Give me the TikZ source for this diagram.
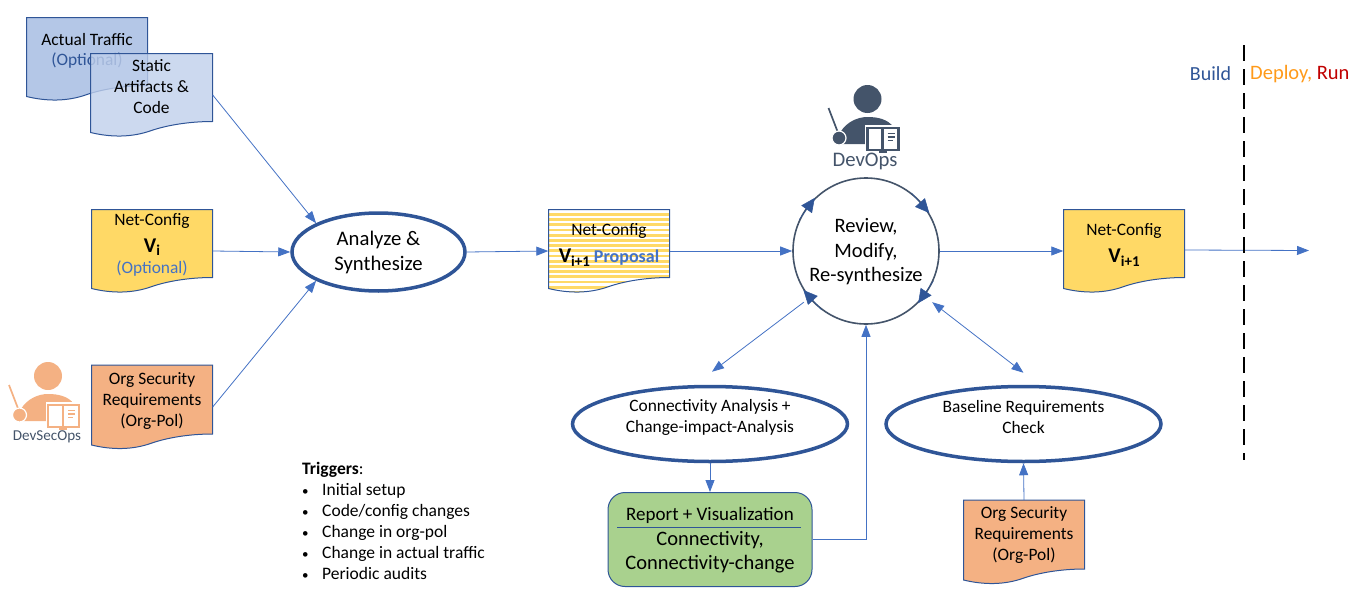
\documentclass[tikz,border=0pt]{standalone}
\usepackage{fontspec}
\setmainfont{Carlito}
\usetikzlibrary{arrows.meta,calc,shapes.geometric}
\definecolor{navy}{HTML}{2F5597}
\definecolor{conn}{HTML}{4472C4}
\definecolor{slate}{HTML}{44546A}
\definecolor{docyellow}{HTML}{FFD966}
\definecolor{docorange}{HTML}{F4B183}
\definecolor{docblue}{HTML}{B4C7E7}
\definecolor{docgreen}{HTML}{A9D18E}
\definecolor{deployc}{HTML}{FF9A1A}
\definecolor{runc}{HTML}{C00000}
\newcommand{\fsz}[1]{\fontsize{#1}{#1}\selectfont}
\newcommand{\vsub}[1]{\textbf{\fsz{21}V\raisebox{-3.5pt}{\fsz{15}#1}}}
\tikzset{
  docedge/.style={draw=navy,line width=1pt},
  doctext/.style={align=center,inner sep=0pt,font=\fsz{17.4},text depth=0pt},
  link/.style={draw=conn,line width=.8pt,-{Triangle[length=12pt,width=9pt]}},
  dlink/.style={draw=conn,line width=.8pt,{Triangle[length=12pt,width=9pt]}-{Triangle[length=12pt,width=9pt]}},
  oval/.style={ellipse,draw=navy,fill=white,inner sep=0pt,align=center},
  plainlabel/.style={inner sep=0pt,align=center},
  circtip/.style={draw=navy,line width=.5pt,-{Triangle[length=14pt,width=13pt]}},
  stripes/.style={fill=white,path picture={
    \foreach \s in {0,...,16}{\fill[docyellow] (540,{213+\s*5.2}) rectangle (680,{215.7+\s*5.2});}}},
}
% name, x, y, w, h, fill style, text y, text
\newcommand{\docbox}[8]{%
  \pgfmathsetmacro{\xa}{#2}\pgfmathsetmacro{\xb}{#2+#4}\pgfmathsetmacro{\ya}{#3}\pgfmathsetmacro{\yb}{#3+#5}%
  \pgfmathsetmacro{\ca}{#2+.17*#4}\pgfmathsetmacro{\cb}{#2+.34*#4}\pgfmathsetmacro{\cc}{#2+.62*#4}\pgfmathsetmacro{\cd}{#2+.8*#4}%
  \path[docedge,#6] (\xa,\ya) -- (\xb,\ya) -- (\xb,\yb-15)
    .. controls (\cd,\yb-15) and (\cc,\yb-11) .. ({#2+.5*#4},\yb-6)
    .. controls (\cb,\yb+1) and (\ca,\yb+1) .. (\xa,\yb-4) -- cycle;
  \node[minimum width=#4pt,minimum height=#5pt,inner sep=0pt] (#1) at ({#2+.5*#4},{#3+.5*#5}) {};
  \node[doctext] (#1-t) at ({#2+.5*#4},#7) {#8};
}
% person: head x, y, colour
\newcommand{\person}[3]{%
  \begin{scope}[shift={(#1,#2)}]
    \fill[#3] (0,0) circle (14);
    \fill[#3] (-27,33) .. controls (-21,23) and (-10,18) .. (0,18) .. controls (10,18) and (20,20) .. (26,28) -- (26,45) -- (-27,45) -- cycle;
    \draw[#3,line width=1.7pt] (-39,9) -- (-29,35);
    \fill[#3,draw=white,line width=1.2pt] (-28.5,39) circle (7);
    \fill[white] (-2.5,26) rectangle (33.5,54);
    \draw[#3,line width=2.4pt,fill=white] (0,29) rectangle (31,51);
    \draw[#3,line width=2.2pt] (15,29) -- (15,51);
    \draw[#3,line width=1.2pt] (20,34.5) -- (27,34.5) (20,38) -- (27,38) (20,41.5) -- (25,41.5);
    \fill[#3] (11,51) rectangle (19,54);
  \end{scope}
}
\begin{document}
\begin{tikzpicture}[x=1pt,y=-1pt]
\useasboundingbox (0,0) rectangle (1353,589);

% documents
\docbox{traffic}{26.5}{17.5}{121}{83}{fill=docblue}{49.5}{Actual Traffic\\[2.6pt]\textcolor{navy}{(Optional)}}
\docbox{static}{90.5}{53.5}{122}{83}{fill=docblue!85!white,fill opacity=.8}{86}{Static\\[3.6pt]Artifacts \&\\[3.6pt]Code}
\docbox{netv}{91.5}{209.5}{121}{83}{fill=docyellow}{243}{Net-Config\\[9.6pt]\vsub{i}\\[3.6pt]\textcolor{conn}{(Optional)}}
\docbox{orgone}{91.5}{365}{121}{84}{fill=docorange}{400}{Org Security\\[3.6pt]Requirements\\[3.6pt](Org-Pol)}
\docbox{proposal}{548.5}{209.5}{121}{83}{stripes}{243}{Net-Config\\[10pt]\vsub{i+1} \textcolor{conn}{\textbf{\fsz{18}Proposal}}}
\docbox{netnext}{1063.5}{209.5}{121}{83}{fill=docyellow}{243}{Net-Config\\[10pt]\vsub{i+1}}
\docbox{orgtwo}{963.5}{500}{121}{84}{fill=docorange}{534}{Org Security\\[3.6pt]Requirements\\[3.6pt](Org-Pol)}

% process nodes
\node[oval,line width=3.5pt,minimum width=173pt,minimum height=78pt] (analyze) at (378.5,252) {};
\node[plainlabel,font=\fsz{20.7}] (analyze-t) at (378.5,252.5) {Analyze \&\\[5pt]Synthesize};
\node[circle,draw=slate,fill=white,line width=1.6pt,minimum size=146pt,inner sep=0pt] (review) at (866,251) {};
\node[plainlabel,font=\fsz{20.5}] (review-t) at (866,252) {Review,\\[4pt]Modify,\\[4pt]Re-synthesize};
\node[oval,line width=3.5pt,minimum width=275pt,minimum height=75pt] (connect) at (710,424) {};
\node[plainlabel,font=\fsz{17.4}] (connect-t) at (710,417) {Connectivity Analysis +\\[3.6pt]Change-impact-Analysis};
\node[oval,line width=3.5pt,minimum width=275pt,minimum height=75pt] (baseline) at (1023.5,424) {};
\node[plainlabel,font=\fsz{17.4}] (baseline-t) at (1023.5,417) {Baseline Requirements\\[3.6pt]Check};
\node[draw=navy,fill=docgreen,line width=1pt,rounded corners=17pt,minimum width=204pt,minimum height=94pt,inner sep=0pt] (report) at (710,539.5) {};
\node[inner sep=0pt,font=\fsz{19}] (reporthead) at (710,515) {Report + Visualization};
\node[inner sep=0pt,font=\fsz{20.5},align=center] (reportbody) at (710,552) {Connectivity,\\[3.5pt]Connectivity-change};
\draw[navy,line width=.7pt] (617,527.5) -- (801,527.5);

% circular arrowheads on the review circle
\draw[circtip] (review.155) -- (review.134);
\draw[circtip] (review.52) -- (review.31);
\draw[circtip] (review.-24) -- (review.-45);
\draw[circtip] (review.-127) -- (review.-148);

% connectors
\draw[link] (static.east) -- (analyze.north west);
\draw[link] (netv.east) -- (analyze.west);
\draw[link] (orgone.east) -- (analyze.south west);
\draw[link] (analyze.east) -- (proposal.west);
\draw[link] (proposal.east) -- (review.west);
\draw[link] (review.east) -- (netnext.west);
\coordinate (exit) at (1309,250.5);
\draw[link] ([yshift=1pt]netnext.east) -- (exit);
\draw[link] ([xshift=-10pt,yshift=1pt]review.225) -- ([xshift=2pt,yshift=13pt]connect.north);
\draw[dlink] ([xshift=14pt,yshift=1pt]review.-45) -- ([yshift=12pt]baseline.north);
\draw[link] (connect.south) -- (report.north);
\draw[link] (report.east) -| (review.south);
\draw[link] (orgtwo.north) -- (baseline.south);

% people
\person{867.5}{99}{slate}
\node[inner sep=0pt,font=\fsz{20.7},text=slate] (devops) at (865,161) {DevOps};
\person{48}{376}{docorange}
\node[inner sep=0pt,font=\fsz{15.1},text=slate] (devsec) at (47,437) {DevSecOps};

% phase divider
\coordinate (divtop) at (1244,45);
\coordinate (divbot) at (1244,460);
\draw[black,line width=2.4pt,dash pattern=on 16pt off 8pt] (divtop) -- (divbot);
\node[inner sep=0pt,font=\fsz{20},text=navy] (build) at (1210.5,74) {Build};
\node[inner sep=0pt,font=\fsz{20.5},anchor=west] (deploy) at (1250,74) {\textcolor{deployc}{Deploy,} \textcolor{runc}{Run}};

% triggers
\node[inner sep=0pt,anchor=north west,align=left,font=\fsz{17.5}] (triggers) at (302,462) {%
  \textbf{Triggers}:\\[3.5pt]
  \makebox[20pt][l]{\fsz{13}•}Initial setup\\[3.5pt]
  \makebox[20pt][l]{\fsz{13}•}Code/config changes\\[3.5pt]
  \makebox[20pt][l]{\fsz{13}•}Change in org-pol\\[3.5pt]
  \makebox[20pt][l]{\fsz{13}•}Change in actual traffic\\[3.5pt]
  \makebox[20pt][l]{\fsz{13}•}Periodic audits};
\end{tikzpicture}
\end{document}
